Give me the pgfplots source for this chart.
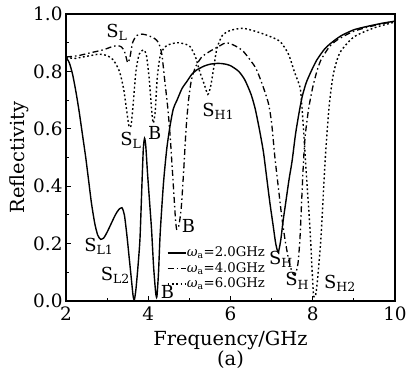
\documentclass[border=0pt]{standalone}
\usepackage{fontspec}
\setmainfont{DejaVu Serif}
\usepackage{pgfplots}
\pgfplotsset{compat=1.18}

\pgfplotstableread{
f R
2.00 0.85
2.08 0.83
2.16 0.79
2.24 0.73
2.32 0.66
2.40 0.58
2.48 0.50
2.55 0.42
2.62 0.34
2.70 0.27
2.77 0.23
2.84 0.215
2.92 0.22
3.00 0.24
3.10 0.27
3.20 0.30
3.28 0.318
3.36 0.325
3.42 0.30
3.48 0.23
3.53 0.16
3.58 0.09
3.63 0.02
3.66 0.003
3.70 0.04
3.75 0.12
3.80 0.22
3.85 0.42
3.88 0.53
3.91 0.567
3.94 0.54
3.98 0.45
4.03 0.35
4.08 0.25
4.13 0.12
4.18 0.03
4.21 0.015
4.25 0.10
4.29 0.235
4.37 0.41
4.45 0.53
4.53 0.61
4.61 0.67
4.70 0.70
4.82 0.74
4.94 0.765
5.06 0.79
5.18 0.805
5.35 0.818
5.50 0.825
5.70 0.828
5.85 0.826
6.00 0.82
6.20 0.80
6.35 0.77
6.50 0.72
6.60 0.67
6.70 0.60
6.80 0.52
6.88 0.43
6.96 0.34
7.04 0.26
7.10 0.20
7.16 0.17
7.22 0.21
7.28 0.28
7.34 0.34
7.42 0.42
7.50 0.49
7.58 0.58
7.66 0.65
7.74 0.71
7.84 0.76
7.96 0.80
8.10 0.84
8.30 0.88
8.50 0.905
8.70 0.925
9.00 0.945
9.33 0.957
9.70 0.968
10.0 0.975
}\tabA

\pgfplotstableread{
f R
2.00 0.85
2.30 0.855
2.60 0.865
2.90 0.875
3.10 0.885
3.25 0.89
3.35 0.885
3.42 0.87
3.47 0.845
3.50 0.83
3.55 0.845
3.62 0.90
3.72 0.925
3.85 0.93
4.00 0.925
4.15 0.915
4.25 0.90
4.33 0.86
4.40 0.77
4.47 0.68
4.53 0.58
4.58 0.47
4.62 0.38
4.66 0.29
4.69 0.25
4.74 0.26
4.80 0.32
4.86 0.45
4.92 0.60
4.98 0.70
5.05 0.77
5.15 0.815
5.30 0.85
5.50 0.87
5.75 0.89
5.90 0.90
6.10 0.89
6.31 0.87
6.60 0.815
6.76 0.76
6.92 0.69
7.00 0.62
7.08 0.50
7.16 0.40
7.25 0.29
7.33 0.21
7.42 0.14
7.50 0.10
7.57 0.09
7.64 0.13
7.69 0.22
7.74 0.38
7.78 0.50
7.82 0.58
7.90 0.67
8.00 0.745
8.10 0.80
8.20 0.84
8.40 0.885
8.60 0.91
9.00 0.94
9.50 0.96
10.0 0.975
}\tabB

\pgfplotstableread{
f R
2.00 0.85
2.20 0.845
2.40 0.85
2.60 0.855
2.80 0.86
3.00 0.855
3.15 0.84
3.30 0.80
3.40 0.74
3.47 0.67
3.53 0.61
3.58 0.61
3.63 0.68
3.70 0.80
3.78 0.86
3.88 0.875
3.95 0.86
4.02 0.78
4.08 0.67
4.12 0.62
4.17 0.66
4.22 0.78
4.30 0.86
4.45 0.89
4.70 0.90
4.90 0.895
5.02 0.886
5.15 0.85
5.25 0.80
5.35 0.76
5.45 0.72
5.52 0.75
5.60 0.82
5.67 0.88
5.80 0.925
6.00 0.943
6.30 0.95
6.60 0.94
6.90 0.925
7.20 0.905
7.41 0.86
7.55 0.80
7.69 0.745
7.73 0.69
7.77 0.61
7.85 0.43
7.93 0.26
7.98 0.12
8.02 0.02
8.07 0.02
8.12 0.08
8.20 0.22
8.26 0.38
8.32 0.53
8.40 0.68
8.50 0.79
8.66 0.865
9.00 0.92
9.50 0.952
10.0 0.972
}\tabC

\begin{document}
\begin{tikzpicture}
\begin{axis}[
  scale only axis, width=329bp, height=287bp,
  xmin=2, xmax=10, ymin=0, ymax=1,
  xtick={2,4,6,8,10}, ytick={0,0.2,0.4,0.6,0.8,1.0},
  minor x tick num=1, minor y tick num=1,
  xtick pos=bottom, ytick pos=left,
  tick align=inside,
  major tick length=5bp, minor tick length=3bp,
  tick style={line width=1bp, black},
  /pgf/number format/assume math mode=true,
  yticklabel style={/pgf/number format/.cd, fixed, fixed zerofill, precision=1},
  ticklabel style={font=\fontsize{18.5}{20}\selectfont},
  xticklabel style={yshift=-2bp},
  label style={font=\fontsize{19.5}{22}\selectfont},
  xlabel={Frequency/GHz}, ylabel={Reflectivity},
  xlabel style={yshift=-4bp},
  ylabel style={yshift=-2bp},
  axis line style={line width=1.2bp},
  legend cell align=left,
  legend image code/.code={\draw[#1] (0bp,0bp) -- (18bp,0bp);},
  legend style={draw=none, fill=none, inner sep=0pt,
    at={(axis cs:4.45,0.195)}, anchor=north west,
    font=\fontsize{13.3}{15}\selectfont,
    nodes={inner sep=0.5bp, text height=11bp, text depth=3.5bp},
    row sep=0pt},
]
\addplot[black, line width=1.4bp, smooth, tension=0.4] table[x=f,y=R] {\tabA};
\addlegendentry{{\itshape ω}\textsubscript{a}=2.0GHz}
\addplot[black, line width=1.3bp, smooth, tension=0.4, dash pattern=on 6bp off 3bp on 1.5bp off 3bp] table[x=f,y=R] {\tabB};
\addlegendentry{{\itshape ω}\textsubscript{a}=4.0GHz}
\addplot[black, line width=1.4bp, smooth, tension=0.4, dash pattern=on 1.8bp off 2.5bp] table[x=f,y=R] {\tabC};
\addlegendentry{{\itshape ω}\textsubscript{a}=6.0GHz}

\coordinate (O) at (rel axis cs:0,0);
\begin{scope}[every node/.style={font=\fontsize{18}{20}\selectfont, inner sep=0pt}]
\node at (axis cs:3.24,0.935) {S\textsubscript{L}};
\node at (axis cs:3.58,0.56) {S\textsubscript{L}};
\node at (axis cs:4.16,0.585) {B};
\node at (axis cs:5.70,0.66) {S\textsubscript{H1}};
\node at (axis cs:2.80,0.19) {S\textsubscript{L1}};
\node at (axis cs:3.20,0.09) {S\textsubscript{L2}};
\node at (axis cs:4.47,0.03) {B};
\node at (axis cs:4.98,0.26) {B};
\node at (axis cs:7.23,0.145) {S\textsubscript{H}};
\node at (axis cs:7.62,0.07) {S\textsubscript{H}};
\node at (axis cs:8.66,0.062) {S\textsubscript{H2}};
\end{scope}
\end{axis}
\path (O) ++(164.5bp,-58.5bp) node[font=\fontsize{19.5}{22}\selectfont, inner sep=0pt] {(a)};
\pgfresetboundingbox
\path (O) ++(-66bp,-69bp) rectangle ++(408bp,370bp);
\end{tikzpicture}
\end{document}
